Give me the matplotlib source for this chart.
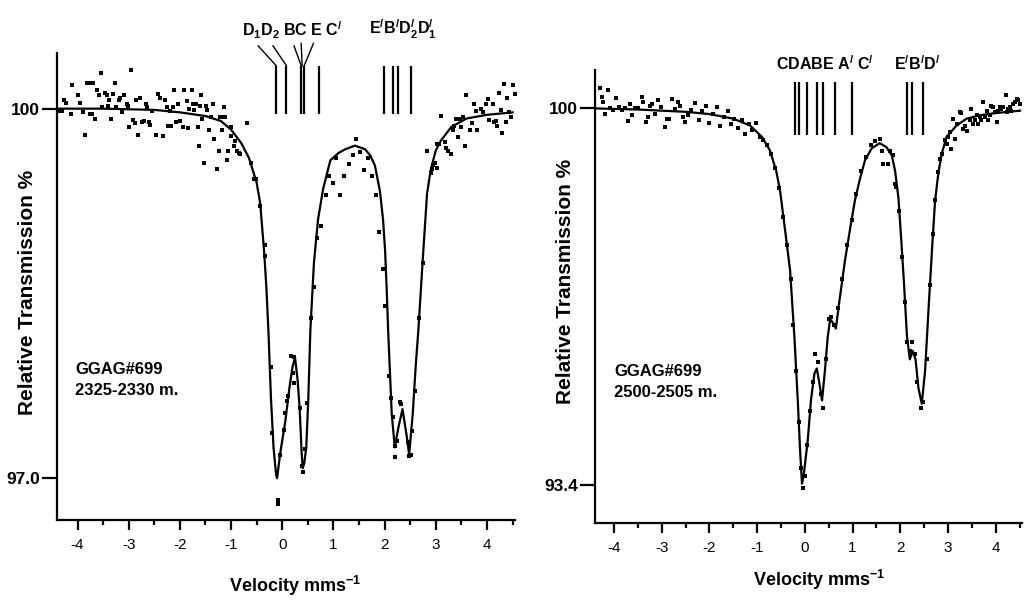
import matplotlib
matplotlib.use("Agg")
import matplotlib.pyplot as plt
from matplotlib.ticker import MultipleLocator

plt.rcParams['font.family'] = ['Liberation Sans', 'DejaVu Sans']
plt.rcParams['mathtext.fontset'] = 'custom'
plt.rcParams['mathtext.rm'] = 'Liberation Sans'
plt.rcParams['mathtext.bf'] = 'Liberation Sans:bold'
plt.rcParams['mathtext.it'] = 'Liberation Sans:italic'

# ---- left spectrum (2325-2330 m) ----
fit_left = [(-4.4, 100.0), (-3.5, 100.0), (-2.5, 99.99), (-2.0, 99.97), (-1.5, 99.94),
            (-1.2, 99.9), (-1.0, 99.83), (-0.8, 99.72), (-0.65, 99.6), (-0.5, 99.4),
            (-0.43, 99.23), (-0.35, 98.82), (-0.31, 98.55), (-0.27, 98.2), (-0.22, 97.65),
            (-0.17, 97.25), (-0.12, 97.03), (-0.1, 97.0), (-0.04, 97.2), (0.06, 97.46),
            (0.14, 97.73), (0.2, 97.9), (0.25, 97.98), (0.3, 97.8), (0.34, 97.57),
            (0.38, 97.2), (0.4, 97.08), (0.43, 97.12), (0.47, 97.25), (0.51, 97.65),
            (0.55, 98.2), (0.62, 98.75), (0.7, 99.1), (0.8, 99.35), (0.94, 99.58),
            (1.1, 99.64), (1.23, 99.67), (1.42, 99.70), (1.62, 99.67), (1.72, 99.62),
            (1.81, 99.54), (1.91, 99.33), (1.97, 99.1), (2.01, 98.85), (2.04, 98.55),
            (2.07, 98.2), (2.14, 97.52), (2.2, 97.25), (2.27, 97.41), (2.35, 97.56),
            (2.43, 97.35), (2.48, 97.19), (2.55, 97.52), (2.61, 97.92), (2.66, 98.2),
            (2.75, 98.8), (2.83, 99.31), (2.9, 99.5), (3.0, 99.66), (3.1, 99.74),
            (3.3, 99.85), (3.6, 99.92), (4.0, 99.95), (4.5, 99.97)]

pts_left = [(-4.36, 99.98), (-4.30, 99.98), (-4.26, 100.07), (-4.22, 100.05), (-4.13, 99.96),
            (-4.11, 100.19), (-4.00, 100.11), (-3.96, 100.05), (-3.89, 99.97), (-3.86, 99.79),
            (-3.82, 100.21), (-3.78, 100.21), (-3.76, 99.96), (-3.72, 99.96), (-3.69, 100.21),
            (-3.65, 99.92), (-3.61, 100.15), (-3.58, 100.11), (-3.55, 100.29), (-3.52, 100.01),
            (-3.47, 100.13), (-3.43, 100.11), (-3.40, 100.02), (-3.39, 100.07), (-3.34, 99.92),
            (-3.30, 100.12), (-3.27, 100.21), (-3.24, 100.01), (-3.19, 100.07), (-3.16, 100.09),
            (-3.13, 99.97), (-3.09, 100.11), (-3.04, 100.04), (-3.01, 100.02), (-3.00, 99.85),
            (-2.95, 100.31), (-2.91, 99.91), (-2.88, 99.88), (-2.85, 100.07), (-2.82, 99.79),
            (-2.78, 100.09), (-2.74, 99.89), (-2.70, 99.90), (-2.67, 100.04), (-2.64, 100.01),
            (-2.61, 99.89), (-2.59, 99.87), (-2.54, 99.98), (-2.46, 99.79), (-2.43, 100.12),
            (-2.39, 100.09), (-2.33, 99.78), (-2.30, 100.07), (-2.26, 100.01), (-2.24, 99.86),
            (-2.20, 99.98), (-2.17, 99.86), (-2.13, 100.01), (-2.11, 100.15), (-2.07, 99.89),
            (-2.04, 100.04), (-1.99, 99.90), (-1.94, 99.85), (-1.91, 100.15), (-1.87, 100.06),
            (-1.85, 99.84), (-1.83, 100.0), (-1.76, 100.15), (-1.74, 100.04), (-1.72, 99.99),
            (-1.68, 100.04), (-1.65, 99.85), (-1.63, 99.70), (-1.61, 100.02), (-1.59, 100.11),
            (-1.57, 99.92), (-1.52, 99.56), (-1.48, 100.02), (-1.46, 99.99), (-1.44, 99.83),
            (-1.39, 99.93), (-1.35, 100.04), (-1.34, 99.75), (-1.27, 99.51), (-1.24, 99.66),
            (-1.21, 99.93), (-1.18, 99.83), (-1.16, 99.93), (-1.13, 100.01), (-1.11, 99.93),
            (-1.08, 99.58), (-1.05, 99.66), (-1.01, 99.85), (-1.00, 99.78), (-0.95, 99.70),
            (-0.92, 99.74), (-0.88, 99.66), (-0.85, 99.64), (-0.82, 99.63), (-0.68, 99.88),
            (-0.61, 99.56), (-0.56, 99.43), (-0.51, 99.43), (-0.43, 99.21), (-0.33, 98.89),
            (-0.33, 98.80), (-0.21, 97.90), (-0.19, 97.37), (-0.05, 97.19), (-0.09, 96.82),
            (-0.08, 96.79), (0.04, 97.39), (0.06, 97.53), (0.10, 97.63), (0.12, 97.67),
            (0.17, 97.99), (0.24, 97.98), (0.22, 97.85), (0.24, 97.77), (0.34, 97.57),
            (0.38, 97.10), (0.40, 97.05), (0.45, 97.24), (0.48, 97.61), (0.56, 98.30),
            (0.62, 98.55), (0.68, 98.95), (0.75, 99.05), (0.85, 99.30), (0.92, 99.45),
            (1.00, 99.40), (1.05, 99.60), (1.12, 99.30), (1.20, 99.45), (1.30, 99.55),
            (1.38, 99.62), (1.45, 99.75), (1.52, 99.65), (1.60, 99.50), (1.68, 99.60),
            (1.75, 99.45), (1.84, 99.30), (1.90, 99.00), (1.96, 98.70), (2.01, 98.40),
            (2.09, 97.83), (2.12, 97.65), (2.17, 97.50), (2.20, 97.26), (2.20, 97.17),
            (2.25, 97.30), (2.30, 97.62), (2.33, 97.60), (2.46, 97.29), (2.48, 97.18),
            (2.51, 97.19), (2.53, 97.38), (2.59, 97.71), (2.68, 98.30), (2.75, 98.75),
            (2.83, 99.66), (2.90, 99.48), (2.92, 99.51), (2.94, 99.54), (2.98, 99.56),
            (3.03, 99.52), (3.03, 99.71), (3.06, 99.71), (3.11, 99.94), (3.18, 99.73),
            (3.21, 99.68), (3.24, 99.66), (3.29, 99.63), (3.34, 99.83), (3.36, 99.86),
            (3.39, 99.92), (3.44, 99.92), (3.48, 99.92), (3.53, 99.93), (3.43, 99.77),
            (3.50, 99.85), (3.57, 99.70), (3.60, 100.11), (3.66, 99.83), (3.70, 99.88),
            (3.74, 100.04), (3.78, 99.98), (3.81, 99.83), (3.88, 100.0), (3.92, 99.97),
            (3.99, 100.04), (4.02, 100.08), (4.05, 99.91), (4.11, 100.04), (4.13, 99.89),
            (4.17, 99.90), (4.20, 99.86), (4.23, 100.13), (4.27, 99.99), (4.30, 99.80),
            (4.33, 100.20), (4.38, 99.89), (4.40, 100.09), (4.44, 99.97), (4.48, 99.93),
            (4.51, 100.19), (4.54, 100.12)]

# ---- right spectrum (2500-2505 m) ----
fit_right = [(-4.4, 100.0), (-3.5, 99.98), (-3.0, 99.96), (-2.5, 99.94), (-2.0, 99.9),
             (-1.5, 99.82), (-1.15, 99.7), (-0.9, 99.5), (-0.73, 99.26), (-0.6, 98.9),
             (-0.52, 98.56), (-0.42, 97.9), (-0.31, 97.16), (-0.22, 96.0), (-0.15, 94.9),
             (-0.1, 94.0), (-0.06, 93.42), (-0.02, 93.6), (0.06, 94.18), (0.13, 94.9),
             (0.2, 95.35), (0.25, 95.44), (0.3, 95.2), (0.36, 94.88), (0.42, 95.4),
             (0.48, 96.0), (0.53, 96.3), (0.58, 96.25), (0.65, 96.14), (0.72, 96.6),
             (0.84, 97.33), (0.95, 97.9), (1.05, 98.39), (1.15, 98.75), (1.26, 99.09),
             (1.4, 99.3), (1.57, 99.39), (1.71, 99.32), (1.82, 99.18), (1.89, 98.91),
             (1.96, 98.44), (2.02, 97.7), (2.08, 96.9), (2.14, 96.0), (2.2, 95.6),
             (2.26, 95.75), (2.32, 95.6), (2.38, 95.1), (2.45, 94.82), (2.52, 95.4),
             (2.6, 96.6), (2.67, 97.6), (2.73, 98.39), (2.8, 98.88), (2.87, 99.21),
             (2.97, 99.5), (3.18, 99.7), (3.39, 99.82), (3.67, 99.88), (4.02, 99.92),
             (4.51, 99.96)]

pts_right = [(-4.30, 100.35), (-4.26, 100.20), (-4.23, 100.12), (-4.19, 99.91), (-4.12, 100.32),
             (-4.08, 100.0), (-4.02, 99.98), (-3.95, 100.19), (-3.90, 100.02), (-3.84, 99.98),
             (-3.78, 100.01), (-3.70, 99.78), (-3.67, 100.08), (-3.63, 99.88), (-3.56, 100.0),
             (-3.50, 100.01), (-3.42, 100.20), (-3.39, 100.11), (-3.32, 99.76), (-3.28, 99.85),
             (-3.25, 100.04), (-3.20, 100.08), (-3.15, 99.90), (-3.08, 100.14), (-3.02, 100.02),
             (-2.94, 99.68), (-2.88, 99.82), (-2.85, 99.82), (-2.79, 100.17), (-2.73, 99.99),
             (-2.66, 100.11), (-2.62, 100.05), (-2.55, 99.85), (-2.52, 99.76), (-2.45, 99.88),
             (-2.38, 99.98), (-2.30, 100.10), (-2.22, 99.80), (-2.15, 99.95), (-2.08, 100.05),
             (-2.00, 99.75), (-1.93, 99.90), (-1.85, 100.02), (-1.78, 99.70), (-1.70, 99.85),
             (-1.62, 99.95), (-1.55, 99.72), (-1.48, 99.82), (-1.40, 99.65), (-1.32, 99.80),
             (-1.25, 99.55), (-1.18, 99.72), (-1.10, 99.62), (-1.02, 99.75), (-0.95, 99.50),
             (-0.88, 99.45), (-0.80, 99.35), (-0.72, 99.20), (-0.62, 98.95), (-0.55, 98.60),
             (-0.45, 98.10), (-0.38, 97.60), (-0.30, 97.00), (-0.24, 96.20), (-0.18, 95.40),
             (-0.12, 94.50), (-0.08, 93.70), (-0.04, 93.35), (0.00, 93.55), (0.05, 94.10),
             (0.10, 94.70), (0.16, 95.20), (0.22, 95.70), (0.27, 95.55), (0.33, 95.00),
             (0.38, 94.75), (0.44, 95.60), (0.50, 96.30), (0.55, 96.35), (0.62, 96.20),
             (0.70, 96.50), (0.78, 97.00), (0.88, 97.60), (0.98, 98.05), (1.08, 98.50),
             (1.18, 98.90), (1.28, 99.15), (1.38, 99.35), (1.47, 99.42), (1.57, 99.47),
             (1.61, 99.26), (1.64, 99.03), (1.75, 99.03), (1.78, 99.26), (1.84, 99.18),
             (1.89, 98.68), (1.92, 98.62), (1.98, 98.20), (2.04, 97.40), (2.10, 96.60),
             (2.15, 95.90), (2.20, 95.75), (2.24, 95.90), (2.30, 95.70), (2.36, 95.20),
             (2.44, 94.75), (2.48, 94.85), (2.55, 95.60), (2.62, 96.90), (2.68, 97.80),
             (2.73, 98.40), (2.80, 98.88), (2.83, 99.12), (2.87, 99.20), (2.94, 99.44),
             (2.97, 99.38), (3.00, 99.50), (3.04, 99.58), (3.07, 99.29), (3.14, 99.47),
             (3.10, 99.82), (3.18, 99.73), (3.25, 99.94), (3.28, 99.92), (3.32, 99.64),
             (3.35, 99.70), (3.40, 99.61), (3.46, 99.79), (3.49, 99.99), (3.53, 99.73),
             (3.56, 99.80), (3.60, 99.88), (3.63, 99.73), (3.67, 99.85), (3.70, 99.79),
             (3.74, 100.11), (3.77, 99.85), (3.81, 99.96), (3.84, 99.79), (3.88, 99.88),
             (3.91, 100.05), (3.95, 100.02), (3.98, 99.94), (4.02, 99.76), (4.05, 99.96),
             (4.09, 100.02), (4.12, 99.99), (4.16, 100.02), (4.21, 100.23), (4.23, 99.94),
             (4.26, 99.99), (4.30, 100.02), (4.33, 99.96), (4.37, 100.08), (4.40, 100.11),
             (4.44, 100.17), (4.47, 100.14), (4.51, 100.08)]

# site marker positions (mm/s)
lines_left = [-0.12, 0.08, 0.37, 0.43, 0.72, 1.99, 2.16, 2.26, 2.51]
lines_right = [-0.21, -0.13, 0.04, 0.25, 0.38, 0.63, 0.99, 2.14, 2.24, 2.47]

xticks = [-4, -3, -2, -1, 0, 1, 2, 3, 4]


def draw_panel(ax, fit, pts, ylim, yticks, ylabels):
    fx, fy = zip(*fit)
    px, py = zip(*pts)
    ax.plot(px, py, 's', color='black', ms=2.6, mew=0, clip_on=False)
    ax.plot(fx, fy, '-', color='black', lw=1.6)
    ax.set_xlim(-4.4, 4.55)
    ax.set_ylim(*ylim)
    for s in ['top', 'right']:
        ax.spines[s].set_visible(False)
    for s in ['left', 'bottom']:
        ax.spines[s].set_linewidth(1.6)
    ax.set_xticks(xticks)
    ax.set_xticklabels([str(t) for t in xticks], fontsize=11)
    ax.xaxis.set_minor_locator(MultipleLocator(0.5))
    ax.tick_params(axis='x', which='major', length=7, width=1.6, direction='out', pad=6)
    ax.tick_params(axis='x', which='minor', length=3.5, width=1.6, direction='out')
    ax.set_yticks(yticks)
    ax.set_yticklabels(ylabels, fontsize=12.5, fontweight='bold')
    ax.tick_params(axis='y', which='major', length=11, width=1.6, direction='out', pad=1)


fig = plt.figure(figsize=(10.24, 6.05), dpi=100)

ax1 = fig.add_axes([0.0557, 0.1405, 0.4473, 0.7715])
draw_panel(ax1, fit_left, pts_left, (96.66, 100.45), [97.0, 100], ['97.0', '100'])
ax1.vlines(lines_left, 99.96, 100.35, color='black', lw=1.6, clip_on=False)
ax1.plot([-0.47, -0.12], [100.51, 100.35], color='black', lw=1.0, clip_on=False)
ax1.plot([-0.18, 0.08], [100.51, 100.35], color='black', lw=1.0, clip_on=False)
ax1.plot([0.23, 0.37], [100.51, 100.35], color='black', lw=1.0, clip_on=False)
ax1.plot([0.37, 0.39], [100.53, 100.35], color='black', lw=1.0, clip_on=False)
ax1.plot([0.61, 0.43], [100.53, 100.35], color='black', lw=1.0, clip_on=False)
ax1.text(0.19, 100.55, r'$\mathbf{D_1D_2\ BC\ E\ C^{/}}$', fontsize=11.5,
         ha='center', va='bottom', clip_on=False)
ax1.text(2.36, 100.55, r'$\mathbf{E^{/}B^{/}D^{/}_{2}D^{/}_{1}}$', fontsize=11.5,
         ha='center', va='bottom', clip_on=False)
ax1.text(-4.05, 97.94, 'GGAG#699\n2325-2330 m.', fontsize=12, fontweight='bold',
         ha='left', va='top', linespacing=1.5)

ax2 = fig.add_axes([0.581, 0.1355, 0.417, 0.7485])
draw_panel(ax2, fit_right, pts_right, (92.73, 100.67), [93.4, 100], ['93.4', '100'])
ax2.vlines(lines_right, 99.54, 100.46, color='black', lw=1.6, clip_on=False)
ax2.text(0.42, 100.62, r'$\mathbf{CDABE\ A^{/}\ C^{/}}$', fontsize=11.5,
         ha='center', va='bottom', clip_on=False)
ax2.text(2.36, 100.62, r'$\mathbf{E^{/}B^{/}D^{/}}$', fontsize=11.5,
         ha='center', va='bottom', clip_on=False)
ax2.text(-4.0, 95.51, 'GGAG#699\n2500-2505 m.', fontsize=12, fontweight='bold',
         ha='left', va='top', linespacing=1.5)

fig.text(0.027, 0.516, 'Relative Transmission %', rotation=90, fontsize=15,
         fontweight='bold', ha='center', va='center')
fig.text(0.552, 0.534, 'Relative Transmission %', rotation=90, fontsize=15,
         fontweight='bold', ha='center', va='center')
fig.text(0.288, 0.032, r'Velocity mms$^{\mathbf{-1}}$', fontsize=13, fontweight='bold',
         ha='center', va='center')
fig.text(0.800, 0.042, r'Velocity mms$^{\mathbf{-1}}$', fontsize=13, fontweight='bold',
         ha='center', va='center')

fig.savefig('out.png', dpi=100)
